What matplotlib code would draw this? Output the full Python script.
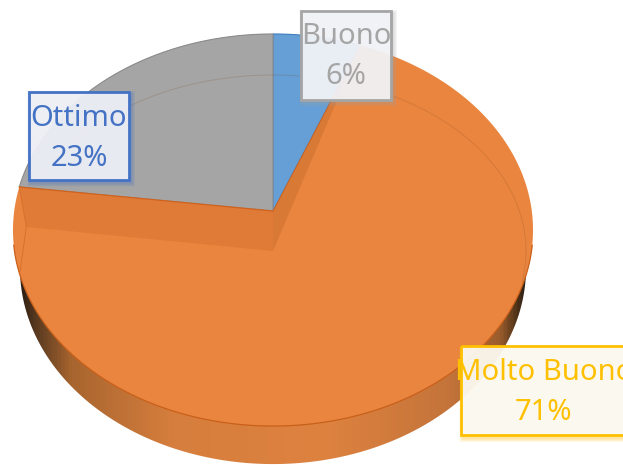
import numpy as np
import matplotlib
matplotlib.use("Agg")
import matplotlib.pyplot as plt
from matplotlib.patches import Polygon, Rectangle
from matplotlib.colors import LinearSegmentedColormap

# slices, clockwise from 12 o'clock
labels = ['Buono', 'Molto Buono', 'Ottimo']
values = [6, 71, 23]
percent_labels = ['6%', '71%', '23%']
slice_colors = ['#659fd6', '#ea853f', '#a5a5a5']
edge_colors = ['#3f7fc0', '#c9601a', '#8c8c8c']
label_colors = ['#a5a5a5', '#ffc000', '#4472c4']
box_fills = ['#f3f4f8', '#fbfaf6', '#f1f2f7']

W, H = 623, 465
cx, cy = 273, 211      # where the rim's pie centre lands in pixels
persp = 0.097          # perspective of the tilted disc
sx, sy = 258.8, 194.2
depth = 38
floor_drop = 40


# unit circle -> picture pixels, front of the disc is bigger
def project(x, y):
    d = 1 + persp * y
    return cx + sx * x / d, cy - sy * y / d


def arc(a0, a1, n=120):
    t = np.radians(np.linspace(a0, a1, n))
    return project(np.sin(t), np.cos(t))


fig = plt.figure(figsize=(W / 100, H / 100), dpi=100)
ax = fig.add_axes([0, 0, 1, 1])

angles = np.cumsum([0] + values) * 3.6

# side wall: same outline pushed down and a bit narrower, dark at both ends
rx, ry = arc(0, 360, 360)
wall_cmap = LinearSegmentedColormap.from_list('wall', [
    (0, '#2e2014'), (0.03, '#5a3a20'), (0.1, '#a8652f'), (0.3, '#d67e3d'),
    (0.6, '#de8240'), (0.85, '#c4743a'), (0.95, '#9a5c2c'), (0.985, '#4a3018'), (1, '#2e2014')])
grad = np.linspace(0, 1, 400).reshape(1, -1)
wall_im = ax.imshow(grad, cmap=wall_cmap, extent=[20, 527, 0, H], aspect='auto', zorder=1)
ax.set_xlim(0, W)
ax.set_ylim(H, 0)
ax.axis('off')
wall_x = cx + (rx - cx) * 253 / 260
wall_clip = Polygon(np.c_[wall_x, ry + depth], closed=True, transform=ax.transData)
wall_im.set_clip_path(wall_clip)

# orange disc, full outline
ax.add_patch(Polygon(np.c_[rx, ry], closed=True, fc=slice_colors[1], ec='none', zorder=2))
# only the front of the rim has a strong edge
fx, fy = arc(100, 260)
ax.plot(fx, fy, color='#c9601a', lw=0.9, zorder=2)

# gray and blue slices on the rim
for i in [0, 2]:
    ax_, ay_ = arc(angles[i], angles[i + 1])
    ax.add_patch(Polygon(np.c_[np.r_[cx, ax_], np.r_[cy, ay_]], closed=True, fc=slice_colors[i],
                         ec=edge_colors[i], lw=0.8, zorder=3))

# darker cut walls of the orange slice, from the rim down to its floor
ex, ey = arc(angles[1], angles[1], 1)
ax.add_patch(Polygon([(cx, cy), (ex[0], ey[0]), (cx, cy + floor_drop)], closed=True,
                     fc='#d87936', ec='none', zorder=3))
ex2, ey2 = arc(angles[2], angles[2], 1)
corner = (ex2[0] + 7, ey2[0] + floor_drop)
ax.add_patch(Polygon([(cx, cy), (ex2[0], ey2[0]), corner, (cx, cy + floor_drop)], closed=True,
                     fc='#e07b37', ec='none', zorder=3))
ax.plot([cx, ex2[0]], [cy, ey2[0]], color='#d0621c', lw=0.9, zorder=4)
ax.plot([cx, ex[0]], [cy, ey[0]], color='#d0621c', lw=0.6, zorder=4)
ax.plot([ex2[0], corner[0], 20], [ey2[0], corner[1], 272], color='#d8702a', lw=0.7, zorder=4)

# faint inner rim of the disc
t = np.radians(np.linspace(-66, 100, 200))
ax.plot(273 + 253 * np.sin(t), 251 - 176 * np.cos(t), color='#7a4a20', lw=0.7, alpha=0.2, zorder=4)

# label boxes: x, y, w, h in pixels
boxes = [(301, 11, 90, 89), (461, 346, 170, 89), (29, 92, 100, 88)]
font = dict(family=['Noto Sans', 'DejaVu Sans'], stretch='condensed', weight='light', fontsize=21)
for i, (bx, by, bw, bh) in enumerate(boxes):
    for k in range(8, 0, -1):
        ax.add_patch(Rectangle((bx + 2 - k / 2, by + 3 - k / 2), bw + k, bh + k, fc=label_colors[i], ec='none',
                               alpha=0.05, zorder=5))
    ax.add_patch(Rectangle((bx, by), bw, bh, fc=box_fills[i], ec='none', alpha=0.93, zorder=6))
    ax.add_patch(Rectangle((bx, by), bw, bh, fc='none', ec=label_colors[i], lw=2, zorder=6))
    tx = bx + bw / 2 if i != 1 else 544
    ax.text(tx, by + 26, labels[i], color=label_colors[i], ha='center', va='center', zorder=7, **font)
    ax.text(tx, by + 66, percent_labels[i], color=label_colors[i], ha='center', va='center', zorder=7, **font)

fig.savefig('out.png', dpi=100)
